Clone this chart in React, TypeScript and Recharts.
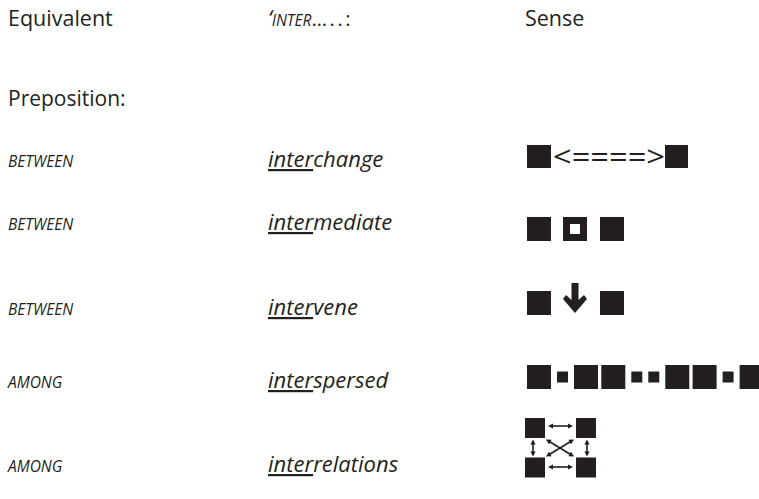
import React from "react";
import { ScatterChart, Scatter, XAxis, YAxis } from "recharts";

// ---- content ----
const headerLabels = ["Equivalent", "‘INTER…..:", "Sense"];
const sectionLabels = ["Preposition:"];
const equivalents = ["BETWEEN", "BETWEEN", "BETWEEN", "AMONG", "AMONG"];
const interPrefix = "inter";
const interWords = ["interchange", "intermediate", "intervene", "interspersed", "interrelations"];
const senseGlyphs = ["exchange", "middle", "comeBetween", "scattered", "network"];
// interspersed pattern: B = large block, s = small block
const scatterPattern = ["B", "s", "B", "B", "s", "s", "B", "B", "s", "B"];

// ---- layout (not data) ----
const W = 759;
const H = 499;
const COL_X = [8, 268, 525];
const GLYPH_X = 527;
const HEADER_BASE = 26;
const SECTION_BASE = 106;
const ROW_BASE = [167, 230, 315, 388, 472];
const GLYPH_MID = [156.5, 229, 303, 377, 447.5];

const FONT = "'Open Sans', 'Noto Sans', sans-serif";
const INK = "#231f20";

const headerPts = headerLabels.map((label, i) => ({ x: COL_X[i], y: HEADER_BASE, label, i }));
const sectionPts = sectionLabels.map((label) => ({ x: COL_X[0], y: SECTION_BASE, label }));
const eqPts = equivalents.map((label, i) => ({ x: COL_X[0], y: ROW_BASE[i], label }));
const wordPts = interWords.map((label, i) => ({ x: COL_X[1], y: ROW_BASE[i], label }));
const glyphPts = senseGlyphs.map((kind, i) => ({ x: GLYPH_X, y: GLYPH_MID[i], kind }));

function HeaderShape(p: any) {
  const { cx, cy, payload } = p;
  if (payload.i === 1) {
    const lbl: string = payload.label;
    return (
      <text x={cx} y={cy} fill={INK} fontFamily={FONT}>
        <tspan fontSize={22} fontStyle="italic">{lbl.slice(0, 1)}</tspan>
        <tspan fontSize={15.5} fontStyle="italic">{lbl.slice(1, 6)}</tspan>
        <tspan fontSize={20} letterSpacing={2.6}>{lbl.slice(6)}</tspan>
      </text>
    );
  }
  return (
    <text x={cx} y={cy} fill={INK} fontFamily={FONT} fontSize={21.5}>
      {payload.label}
    </text>
  );
}

function PlainShape(p: any) {
  const { cx, cy, payload } = p;
  return (
    <text x={cx} y={cy} fill={INK} fontFamily={FONT} fontSize={21}>
      {payload.label}
    </text>
  );
}

function EqShape(p: any) {
  const { cx, cy, payload } = p;
  return (
    <text x={cx} y={cy} fill={INK} fontFamily={FONT} fontSize={15.5} fontStyle="italic">
      {payload.label}
    </text>
  );
}

function WordShape(p: any) {
  const { cx, cy, payload } = p;
  const w: string = payload.label;
  return (
    <text x={cx} y={cy} fill={INK} fontFamily={FONT} fontSize={22} fontStyle="italic">
      <tspan style={{ textDecoration: "underline" }}>{w.slice(0, interPrefix.length)}</tspan>
      <tspan>{w.slice(interPrefix.length)}</tspan>
    </text>
  );
}

function dblArrow(x1: number, y1: number, x2: number, y2: number, key: string) {
  const dx = x2 - x1;
  const dy = y2 - y1;
  const len = Math.sqrt(dx * dx + dy * dy);
  const ux = dx / len;
  const uy = dy / len;
  const nx = -uy;
  const ny = ux;
  const hl = 5;
  const hw = 2.6;
  const head = (tx: number, ty: number, dir: number) => {
    const bx = tx - dir * ux * hl;
    const by = ty - dir * uy * hl;
    return `${tx},${ty} ${bx + nx * hw},${by + ny * hw} ${bx - nx * hw},${by - ny * hw}`;
  };
  return (
    <g key={key}>
      <line
        x1={x1 + ux * 3}
        y1={y1 + uy * 3}
        x2={x2 - ux * 3}
        y2={y2 - uy * 3}
        stroke={INK}
        strokeWidth={1.6}
      />
      <polygon points={head(x1, y1, -1)} fill={INK} />
      <polygon points={head(x2, y2, 1)} fill={INK} />
    </g>
  );
}

function GlyphShape(p: any) {
  const { cx, cy, payload } = p;
  const kind = payload.kind;
  if (kind === "exchange") {
    return (
      <g>
        <rect x={cx} y={cy - 11.5} width={24} height={23} fill={INK} />
        <text
          x={cx + 26}
          y={cy + 10}
          fill={INK}
          fontFamily={FONT}
          fontSize={30}
          textLength={112}
          lengthAdjust="spacingAndGlyphs"
        >
          {"<====>"}
        </text>
        <rect x={cx + 138} y={cy - 11.5} width={23} height={23} fill={INK} />
      </g>
    );
  }
  if (kind === "middle") {
    return (
      <g>
        <rect x={cx} y={cy - 12} width={24} height={24} fill={INK} />
        <rect x={cx + 36} y={cy - 12} width={24} height={24} fill={INK} />
        <rect x={cx + 43} y={cy - 5} width={10} height={10} fill="#ffffff" />
        <rect x={cx + 73} y={cy - 12} width={24} height={24} fill={INK} />
      </g>
    );
  }
  if (kind === "comeBetween") {
    const x0 = cx + 36;
    const top = cy - 20;
    const pts = [
      [x0 + 8.5, top],
      [x0 + 15.5, top],
      [x0 + 15.5, top + 17],
      [x0 + 21, top + 12],
      [x0 + 24, top + 16],
      [x0 + 12, top + 30],
      [x0, top + 16],
      [x0 + 3, top + 12],
      [x0 + 8.5, top + 17],
    ]
      .map((q) => q.join(","))
      .join(" ");
    return (
      <g>
        <rect x={cx} y={cy - 12} width={24} height={24} fill={INK} />
        <polygon points={pts} fill={INK} />
        <rect x={cx + 73} y={cy - 12} width={24} height={24} fill={INK} />
      </g>
    );
  }
  if (kind === "scattered") {
    let x = cx;
    const els: any[] = [];
    scatterPattern.forEach((t, i) => {
      const prev = i > 0 ? scatterPattern[i - 1] : null;
      if (prev) x += prev === "B" && t === "B" ? 3.3 : 6;
      const s = t === "B" ? 24 : 11;
      els.push(<rect key={i} x={x} y={cy - s / 2} width={s} height={s} fill={INK} />);
      x += s;
    });
    return <g>{els}</g>;
  }
  // network
  const s = 20;
  const L = cx - 2;
  const R = cx + 49;
  const T = cy - 29.5;
  const B = cy + 10;
  return (
    <g>
      <rect x={L} y={T} width={s} height={s} fill={INK} />
      <rect x={R} y={T} width={s} height={s} fill={INK} />
      <rect x={L} y={B} width={s} height={s} fill={INK} />
      <rect x={R} y={B} width={s} height={s} fill={INK} />
      {dblArrow(cx + 21, cy - 21.5, cx + 46, cy - 21.5, "t")}
      {dblArrow(cx + 21, cy + 19.5, cx + 46, cy + 19.5, "b")}
      {dblArrow(cx + 6, cy - 8, cx + 6, cy + 9, "l")}
      {dblArrow(cx + 60, cy - 8, cx + 60, cy + 9, "r")}
      {dblArrow(cx + 19, cy - 8, cx + 47, cy + 9, "d1")}
      {dblArrow(cx + 47, cy - 8, cx + 19, cy + 9, "d2")}
    </g>
  );
}

export default function App() {
  return (
    <div style={{ position: "absolute", left: 0, top: 0, width: W, height: H, background: "#fff" }}>
      <ScatterChart width={W} height={H} margin={{ top: 0, right: 0, bottom: 0, left: 0 }}>
        <XAxis type="number" dataKey="x" domain={[0, W]} hide allowDataOverflow />
        <YAxis type="number" dataKey="y" domain={[0, H]} reversed hide allowDataOverflow />
        <Scatter data={headerPts} isAnimationActive={false} shape={(p: any) => <HeaderShape {...p} />} />
        <Scatter data={sectionPts} isAnimationActive={false} shape={(p: any) => <PlainShape {...p} />} />
        <Scatter data={eqPts} isAnimationActive={false} shape={(p: any) => <EqShape {...p} />} />
        <Scatter data={wordPts} isAnimationActive={false} shape={(p: any) => <WordShape {...p} />} />
        <Scatter data={glyphPts} isAnimationActive={false} shape={(p: any) => <GlyphShape {...p} />} />
      </ScatterChart>
    </div>
  );
}
